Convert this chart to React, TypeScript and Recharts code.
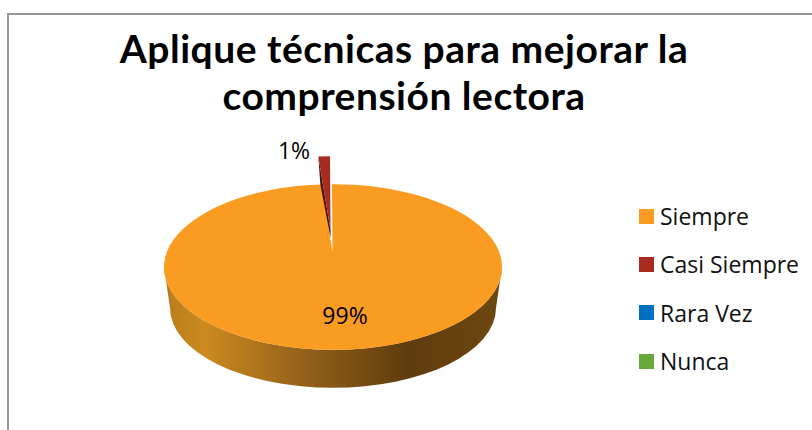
import { PieChart, Pie, Legend } from "recharts";

const categories = ["Siempre", "Casi Siempre", "Rara Vez", "Nunca"];
const shares = [98.9, 1.1, 0, 0];
const colors = ["#fa9c22", "#a92a1e", "#0070c0", "#66a83a"];
const titleLines = ["Aplique técnicas para mejorar la", "comprensión lectora"];

const data = categories.map((name, i) => ({ name, value: shares[i], fill: colors[i] }));

const FONT = '"Open Sans", sans-serif';
const TITLE_FONT = 'Lato, sans-serif';
const TILT = 0.49; // vertical squash of the pie's top face
const APEX_UP = 15; // perspective moves the slice tip above the ellipse centre
const LIFT = 28; // how far the small slice is pulled out
const DEPTH = 41;
const INSET = 6;

const rad = (a: number) => (a * Math.PI) / 180;

const Slice3D = (props: any) => {
  const { cx, cy, outerRadius: rx, startAngle, endAngle, fill, value } = props;
  if (!value) return null;
  const ry = rx * TILT;
  const at = (a: number) => ({ x: cx + rx * Math.cos(rad(a)), y: cy - ry * Math.sin(rad(a)) });
  const s = at(startAngle);
  const e = at(endAngle);
  const apexX = cx - 0.5;
  const apexY = cy - APEX_UP;

  if (startAngle - endAngle < 180) {
    // small slice, pulled out of the pie
    const tip = { x: apexX - 2, y: apexY - 14 };
    const faceTip = { x: tip.x, y: tip.y - 8 };
    const left = { x: s.x - 3, y: s.y - LIFT };
    const right = { x: e.x - 3, y: e.y - LIFT };
    return (
      <g>
        <path d={`M${left.x},${left.y} L${s.x - 1},${s.y} L${tip.x},${tip.y} L${faceTip.x},${faceTip.y} Z`} fill="#4a1408" />
        <path d={`M${faceTip.x},${faceTip.y} L${left.x},${left.y} L${right.x},${right.y} Z`} fill={fill} />
      </g>
    );
  }

  const bottomRy = ry - 3;
  return (
    <g>
      <defs>
        <linearGradient id="wall" x1="0" x2="1" y1="0" y2="0">
          <stop offset="0%" stopColor="#b87c1c" />
          <stop offset="12%" stopColor="#cc8a20" />
          <stop offset="40%" stopColor="#96631a" />
          <stop offset="72%" stopColor="#5f3c0c" />
          <stop offset="100%" stopColor="#6e4710" />
        </linearGradient>
      </defs>
      <path
        d={`M${cx - rx},${cy} A${rx},${ry} 0 0 0 ${cx + rx},${cy} L${cx + rx - INSET},${cy + DEPTH} A${rx - INSET},${bottomRy} 0 0 1 ${cx - rx + INSET},${cy + DEPTH} Z`}
        fill="url(#wall)"
      />
      <path
        d={`M${apexX},${apexY} L${s.x - 1},${s.y} A${rx},${ry} 0 1 1 ${e.x},${e.y} Z`}
        fill={fill}
      />
    </g>
  );
};

const renderLabel = (props: any) => {
  const { cx, cy, percent, index } = props;
  if (!percent) return null;
  const x = index === 0 ? cx + 12 : cx - 39;
  const y = index === 0 ? cy + 57 : cy - 108;
  return (
    <text x={x} y={y} textAnchor="middle" fontFamily={FONT} fontSize={23} fill="#000">
      {Math.round(percent * 100)}%
    </text>
  );
};

const renderLegend = (props: any) => (
  <div>
    {categories.map((name, i) => {
      const item = (props.payload || []).find((p: any) => p.value === name);
      return (
        <div key={name} style={{ display: "flex", alignItems: "center", height: 48.3, fontFamily: FONT, fontSize: 23, color: "#111" }}>
          <span style={{ width: 15, height: 15, marginRight: 6, background: item?.color ?? colors[i] }} />
          <span>{name}</span>
        </div>
      );
    })}
  </div>
);

export default function App() {
  return (
    <div style={{ position: "absolute", left: 0, top: 0, width: 812, height: 430, background: "#fff", overflow: "hidden" }}>
      <div style={{ position: "absolute", left: 7, top: 13, right: 0, bottom: 0, borderLeft: "2px solid #969696", borderTop: "2px solid #969696" }} />
      <div style={{ position: "absolute", left: 0, top: 0 }}>
        <PieChart width={812} height={430} margin={{ top: 0, right: 0, bottom: 0, left: 0 }}>
          <text x={404} y={63} textAnchor="middle" fontFamily={TITLE_FONT} fontWeight={700} fontSize={39} letterSpacing={0.5} fill="#000">
            {titleLines[0]}
          </text>
          <text x={404} y={110} textAnchor="middle" fontFamily={TITLE_FONT} fontWeight={700} fontSize={39} letterSpacing={0.5} fill="#000">
            {titleLines[1]}
          </text>
          <Pie
            data={data}
            dataKey="value"
            nameKey="name"
            cx={333}
            cy={267}
            outerRadius={169}
            startAngle={90}
            endAngle={-270}
            stroke="none"
            shape={Slice3D}
            label={renderLabel}
            labelLine={false}
            isAnimationActive={false}
          />
          <Legend content={renderLegend} wrapperStyle={{ left: 639, top: 192, width: 173, bottom: "auto" }} />
        </PieChart>
      </div>
    </div>
  );
}
